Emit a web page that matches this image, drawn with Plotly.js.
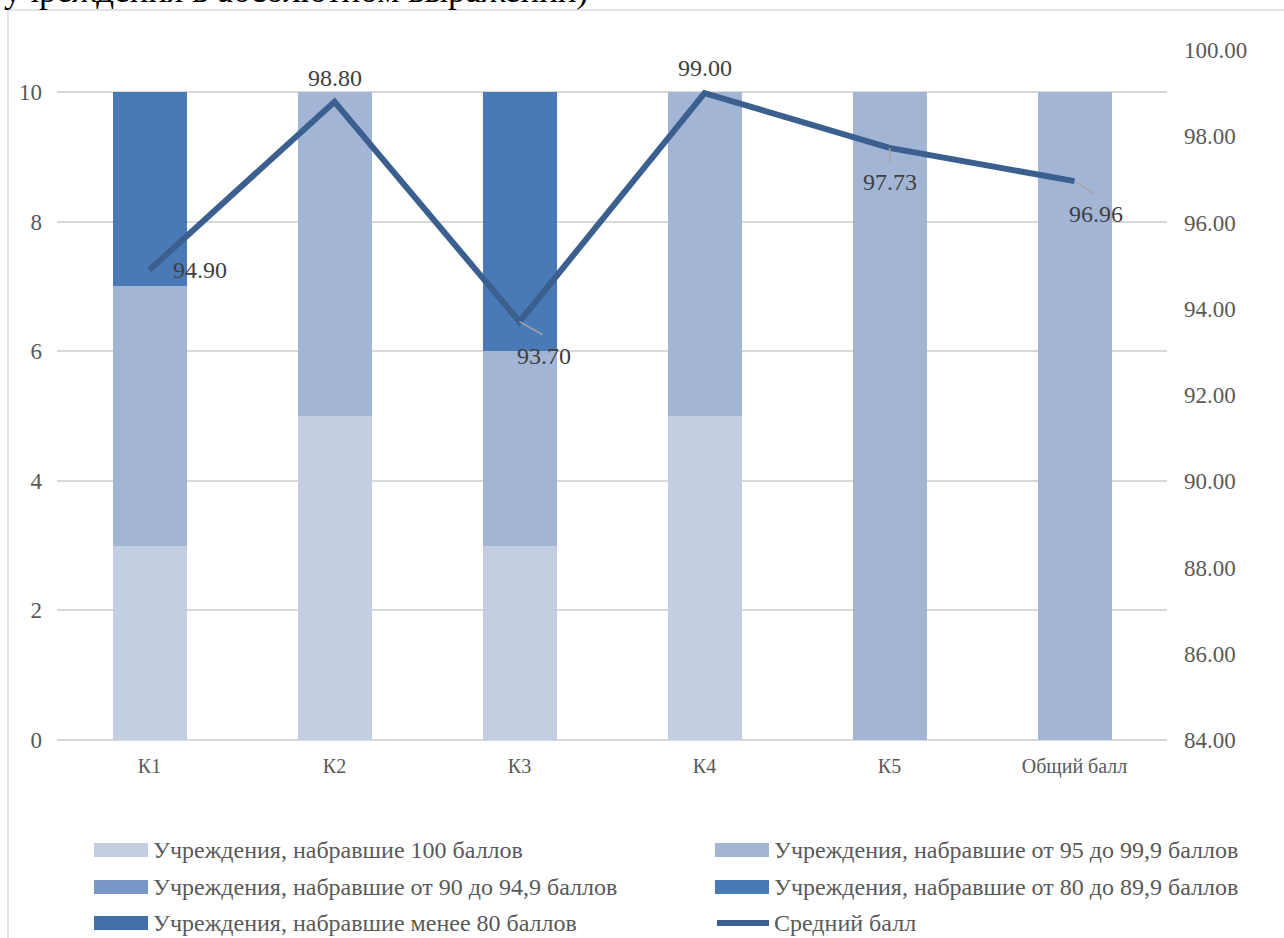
<!DOCTYPE html>
<html>
<head>
<meta charset="utf-8">
<script src="https://cdn.plot.ly/plotly-3.0.1.min.js"></script>
<style>
  html, body { margin: 0; padding: 0; background: #ffffff; }
  #chart { width: 1284px; height: 938px; }
</style>
</head>
<body>
<div id="chart"></div>
<script>
// Categories (criteria) along the horizontal axis
const categories = ['К1', 'К2', 'К3', 'К4', 'К5', 'Общий балл'];

// Number of institutions per score band (left axis, stacked)
const seriesNames = [
  'Учреждения, набравшие 100 баллов',
  'Учреждения, набравшие от 95 до 99,9 баллов',
  'Учреждения, набравшие от 90 до 94,9 баллов',
  'Учреждения, набравшие от 80 до 89,9 баллов',
  'Учреждения, набравшие менее 80 баллов'
];
const score100 = [3, 5, 3, 5, 0, 0];
const score95to99 = [4, 5, 3, 5, 10, 10];
const score90to94 = [0, 0, 0, 0, 0, 0];
const score80to89 = [3, 0, 4, 0, 0, 0];
const scoreBelow80 = [0, 0, 0, 0, 0, 0];

// Average score (right axis)
const avgName = 'Средний балл';
const avgScore = [94.90, 98.80, 93.70, 99.00, 97.73, 96.96];

const captionText = 'учреждения в абсолютном выражении)';

// Styling
const bandColors = ['#C3CEE3', '#A2B5D5', '#7896C6', '#4A7AB5', '#426FA6'];
const lineColor = '#3B5F8E';
const FONT = 'Liberation Serif, Times New Roman, serif';

// Plot-area geometry in pixels
const W = 1284, H = 938;
const M = { l: 57, r: 117, t: 50, b: 198 };
const PW = W - M.l - M.r, PH = H - M.t - M.b;
const px = v => (v - M.l) / PW;
const py = v => (H - M.b - v) / PH;

const bandValues = [score100, score95to99, score90to94, score80to89, scoreBelow80];

const traces = bandValues.map((vals, i) => ({
  type: 'bar',
  name: seriesNames[i],
  x: categories,
  y: vals,
  width: 0.4,
  marker: { color: bandColors[i], line: { width: 0 } },
  hoverinfo: 'x+y+name',
  showlegend: false
}));

traces.push({
  type: 'scatter',
  mode: 'lines',
  name: avgName,
  x: categories,
  y: avgScore,
  yaxis: 'y2',
  line: { color: lineColor, width: 6 },
  showlegend: false
});

// Data-label placement (pixel offsets from each point) and leader lines
const labelOffsets = [
  { dx: 50, dy: 0, lead: null },
  { dx: 0, dy: 24, lead: null },
  { dx: 24, dy: -34, lead: [23, -13] },
  { dx: 0, dy: 25, lead: null },
  { dx: 0, dy: -34, lead: [1, -15] },
  { dx: 21, dy: -33, lead: [20, -13] }
];

const annotations = avgScore.map((v, i) => ({
  x: i, y: v, xref: 'x', yref: 'y2',
  text: v.toFixed(2),
  showarrow: false,
  xanchor: 'center', yanchor: 'middle',
  xshift: labelOffsets[i].dx, yshift: labelOffsets[i].dy,
  font: { family: FONT, size: 24, color: '#404040' }
}));

const shapes = [];

// Outer chart frame
shapes.push({
  type: 'rect', xref: 'paper', yref: 'paper',
  x0: px(8), x1: px(1300), y0: py(960), y1: py(10),
  line: { color: '#D9D9D9', width: 1.5 }, fillcolor: 'rgba(0,0,0,0)', layer: 'below'
});

labelOffsets.forEach((o, i) => {
  if (!o.lead) return;
  shapes.push({
    type: 'line', xref: 'x', yref: 'y2',
    xsizemode: 'pixel', ysizemode: 'pixel',
    xanchor: i, yanchor: avgScore[i],
    x0: 0, y0: 0, x1: o.lead[0], y1: o.lead[1],
    line: { color: '#A6A6A6', width: 1.5 }
  });
});

// Legend: two columns, three rows
const legendItems = seriesNames.map((n, i) => ({ name: n, color: bandColors[i], kind: 'bar' }));
legendItems.push({ name: avgName, color: lineColor, kind: 'line' });
const colX = [94, 715];
const rowY = [850, 887, 923];
legendItems.forEach((it, k) => {
  const cx = colX[k % 2];
  const cy = rowY[Math.floor(k / 2)];
  if (it.kind === 'bar') {
    shapes.push({
      type: 'rect', xref: 'paper', yref: 'paper',
      x0: px(cx), x1: px(cx + 54), y0: py(cy + 7), y1: py(cy - 7),
      fillcolor: it.color, line: { width: 0 }
    });
  } else {
    shapes.push({
      type: 'line', xref: 'paper', yref: 'paper',
      x0: px(cx + 2), x1: px(cx + 54), y0: py(cy), y1: py(cy),
      line: { color: it.color, width: 6 }
    });
  }
  annotations.push({
    xref: 'paper', yref: 'paper',
    x: px(cx + 57), y: py(cy),
    xanchor: 'left', yanchor: 'middle',
    text: it.name, showarrow: false,
    font: { family: FONT, size: 24, color: '#595959' }
  });
});

// Caption line above the chart frame
annotations.push({
  xref: 'paper', yref: 'paper',
  x: px(2), y: py(12),
  xanchor: 'left', yanchor: 'bottom',
  text: captionText, showarrow: false,
  font: { family: FONT, size: 35, color: '#000000' }
});

const layout = {
  width: W, height: H,
  margin: M,
  paper_bgcolor: '#ffffff',
  plot_bgcolor: '#ffffff',
  barmode: 'stack',
  showlegend: false,
  font: { family: FONT, color: '#595959' },
  xaxis: {
    type: 'category',
    tickfont: { family: FONT, size: 20, color: '#595959' },
    showline: false, showgrid: false, zeroline: false,
    ticks: '', ticklabelstandoff: 12
  },
  yaxis: {
    range: [0, PH / 64.8],
    tickvals: [0, 2, 4, 6, 8, 10],
    ticktext: ['0', '2', '4', '6', '8', '10'],
    tickfont: { family: FONT, size: 23, color: '#595959' },
    showgrid: true, gridcolor: '#D9D9D9', gridwidth: 2,
    zeroline: true, zerolinecolor: '#D9D9D9', zerolinewidth: 2,
    showline: false, ticks: '', ticklabelstandoff: 14
  },
  yaxis2: {
    overlaying: 'y', side: 'right',
    range: [84, 100], dtick: 2, tickformat: '.2f',
    tickfont: { family: FONT, size: 23, color: '#595959' },
    showgrid: false, zeroline: false, showline: false,
    ticks: '', ticklabelstandoff: 16
  },
  annotations: annotations,
  shapes: shapes
};

Plotly.newPlot('chart', traces, layout, { displayModeBar: false, staticPlot: true });
</script>
</body>
</html>
